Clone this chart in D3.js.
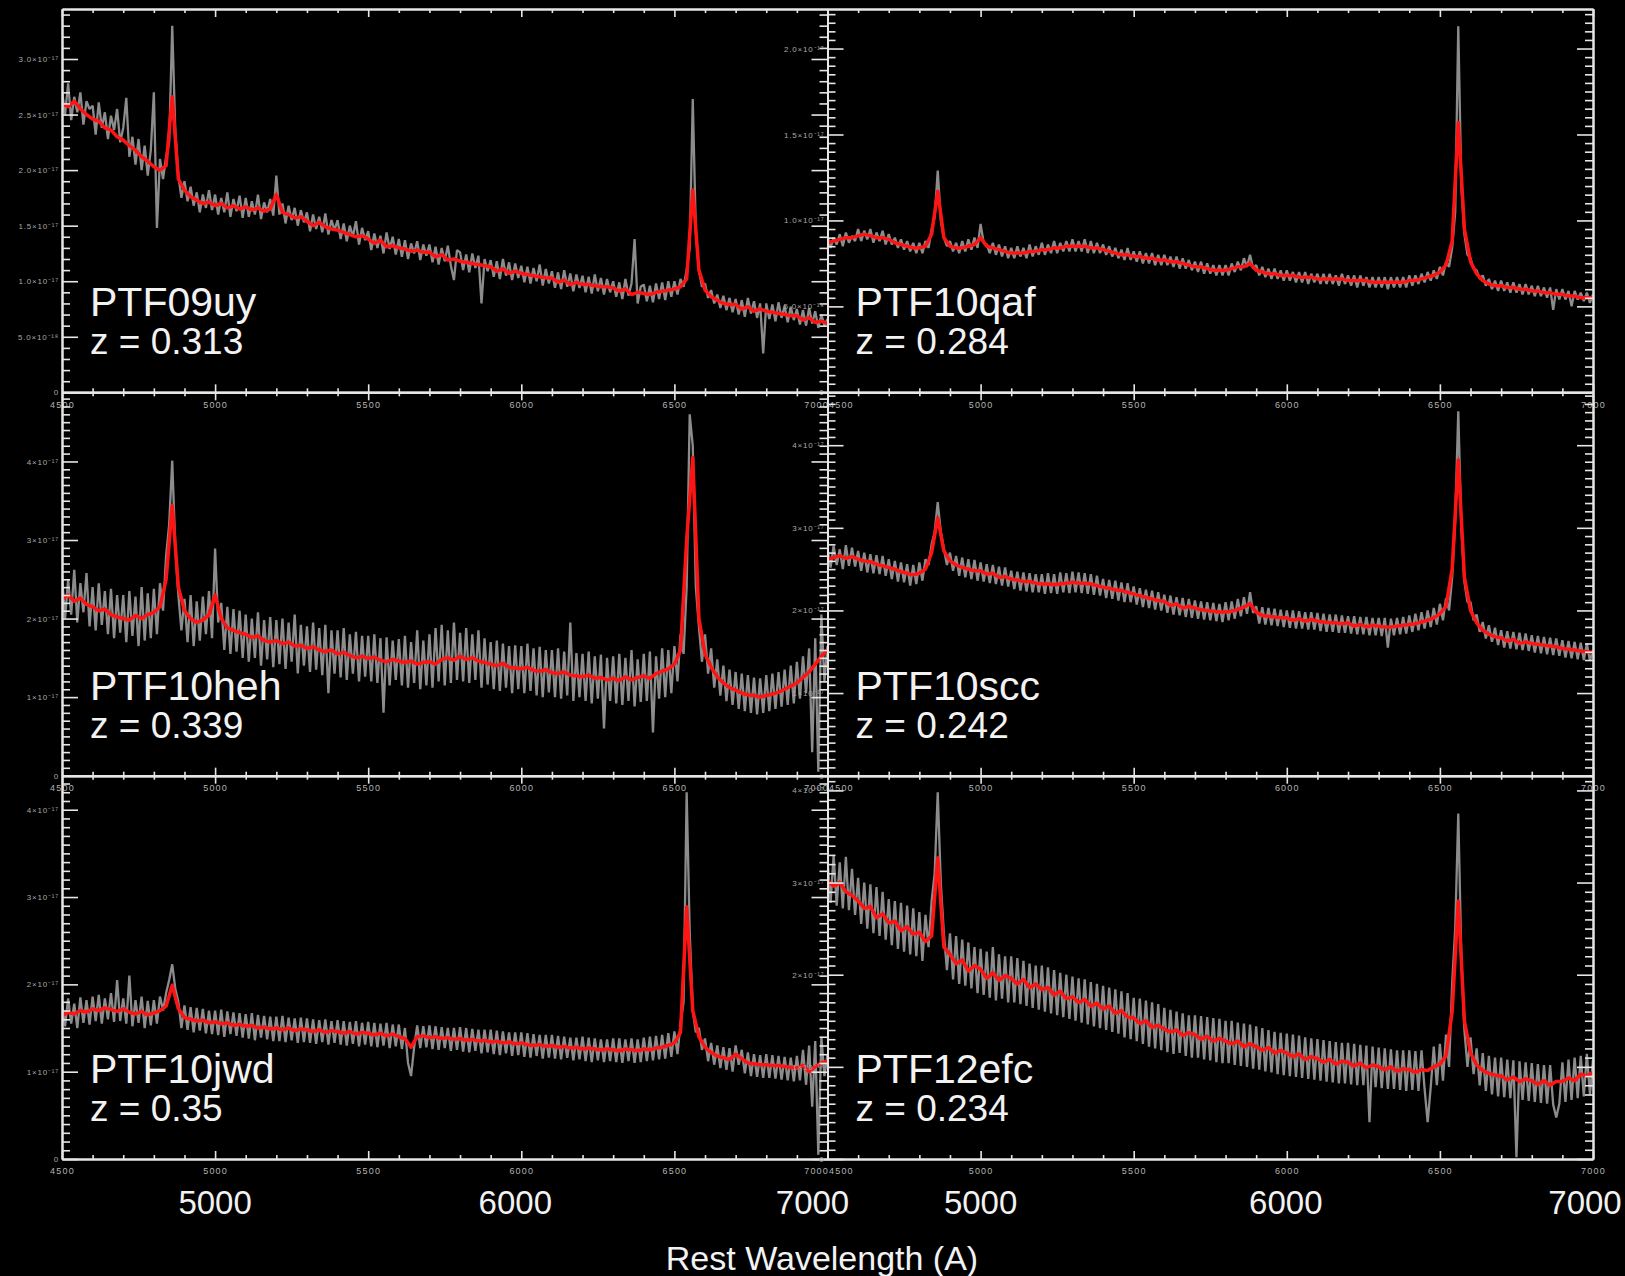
<!DOCTYPE html>
<html><head><meta charset="utf-8">
<script src="https://cdn.jsdelivr.net/npm/d3@7"></script>
<style>html,body{margin:0;padding:0;background:#000;}svg{display:block;}</style>
</head><body>
<svg id="c" width="1625" height="1276"></svg>
<script>
// ---------------- DATA ----------------
const names = ["PTF09uy","PTF10qaf","PTF10heh","PTF10scc","PTF10jwd","PTF12efc"];
const redshifts = ["0.313","0.284","0.339","0.242","0.35","0.234"];
const yMax = [3.45, 2.23, 4.88, 4.64, 4.39, 4.16];       // flux axis top (units of 1e-17)
const yMajorStep = [0.5, 0.5, 1, 1, 1, 1];
const yMinorStep = [0.1, 0.05, 0.1, 0.1, 0.1, 0.1];
const xMajorTicks = [4500, 5000, 5500, 6000, 6500, 7000];
const xMinorStep = 100;
const bigXTicks = [5000, 6000, 7000];
const xLabel = "Rest Wavelength (A)";
const GRAY_START = 4500, GRAY_STEP = 10;   // observed spectrum sampling (Å)
const RED_START = 4500, RED_STEP = 20;     // smoothed spectrum sampling (Å)

const gray_PTF09uy = [
2.72,2.50,2.78,2.45,2.66,2.52,2.70,2.41,2.62,2.55,
2.58,2.32,2.61,2.38,2.52,2.28,2.49,2.36,2.55,2.25,
2.38,2.65,2.12,2.30,2.05,2.28,2.00,2.22,1.95,2.18,
2.70,1.48,2.10,1.92,2.12,2.25,3.30,2.35,1.95,1.75,
1.90,1.72,1.85,1.68,1.80,1.62,1.78,1.66,1.82,1.64,
1.78,1.60,1.75,1.62,1.80,1.58,1.74,1.63,1.77,1.57,
1.75,1.58,1.72,1.60,1.78,1.56,1.71,1.62,1.74,1.59,
1.95,1.60,1.70,1.52,1.68,1.55,1.66,1.50,1.64,1.53,
1.62,1.45,1.60,1.47,1.58,1.44,1.61,1.42,1.55,1.46,
1.55,1.38,1.52,1.36,1.50,1.40,1.54,1.33,1.48,1.37,
1.45,1.28,1.43,1.30,1.41,1.25,1.44,1.29,1.40,1.24,
1.38,1.22,1.37,1.20,1.34,1.25,1.36,1.19,1.33,1.23,
1.33,1.17,1.31,1.15,1.30,1.18,1.32,1.14,1.01,1.28,
1.26,1.10,1.24,1.08,1.25,1.12,1.23,0.80,1.20,1.09,
1.19,1.04,1.18,1.02,1.20,1.05,1.17,1.01,1.16,1.03,
1.14,0.99,1.13,0.98,1.12,1.00,1.15,0.96,1.11,0.98,
1.09,0.94,1.08,0.93,1.10,0.95,1.07,0.91,1.06,0.94,
1.05,0.90,1.04,0.89,1.06,0.91,1.03,0.88,1.02,0.90,
1.00,0.86,0.99,0.84,1.02,0.87,0.98,1.38,0.80,0.95,
0.97,0.82,0.96,0.81,0.98,0.84,0.99,0.83,1.00,0.86,
1.00,0.88,1.02,0.95,1.10,1.30,2.64,1.45,1.10,0.95,
0.98,0.85,0.92,0.80,0.88,0.76,0.87,0.74,0.85,0.72,
0.84,0.70,0.83,0.68,0.85,0.71,0.82,0.67,0.80,0.35,
0.80,0.66,0.79,0.64,0.81,0.67,0.78,0.63,0.77,0.65,
0.75,0.61,0.74,0.60,0.76,0.62,0.73,0.58,0.70,0.60,
0.66];
const red_PTF09uy = [
2.60,2.57,2.62,2.55,2.50,
2.46,2.44,2.38,2.36,2.30,
2.27,2.22,2.18,2.12,2.08,
2.03,2.00,2.04,2.66,1.92,
1.82,1.76,1.73,1.70,1.71,
1.68,1.70,1.66,1.68,1.65,
1.67,1.64,1.66,1.63,1.65,
1.78,1.62,1.60,1.57,1.58,
1.54,1.50,1.53,1.49,1.47,
1.46,1.44,1.42,1.40,1.41,
1.38,1.34,1.37,1.31,1.32,
1.30,1.29,1.27,1.28,1.26,
1.26,1.22,1.24,1.19,1.20,
1.18,1.17,1.16,1.15,1.14,
1.13,1.09,1.11,1.07,1.09,
1.07,1.06,1.05,1.04,1.03,
1.03,0.99,1.01,0.97,0.99,
0.97,0.97,0.96,0.95,0.95,
0.94,0.91,0.93,0.88,0.90,
0.89,0.88,0.90,0.91,0.92,
0.93,0.95,1.02,1.82,1.10,
0.92,0.86,0.83,0.80,0.79,
0.79,0.75,0.77,0.73,0.75,
0.73,0.72,0.71,0.70,0.69,
0.69,0.65,0.67,0.63,0.64,
0.62];

const gray_PTF10qaf = [
0.91,0.84,0.90,0.86,0.92,0.85,0.93,0.87,0.91,0.88,
0.95,0.88,0.94,0.89,0.95,0.87,0.93,0.88,0.94,0.86,
0.92,0.86,0.90,0.84,0.89,0.83,0.88,0.82,0.87,0.81,
0.87,0.81,0.88,0.84,0.95,1.02,1.29,1.00,0.90,0.85,
0.88,0.82,0.87,0.81,0.88,0.82,0.89,0.83,0.90,0.84,
0.98,0.87,0.86,0.81,0.87,0.80,0.86,0.79,0.85,0.78,
0.84,0.78,0.85,0.79,0.84,0.78,0.86,0.79,0.85,0.80,
0.87,0.80,0.86,0.81,0.88,0.81,0.87,0.82,0.88,0.82,
0.89,0.82,0.88,0.82,0.89,0.81,0.88,0.81,0.87,0.81,
0.86,0.80,0.85,0.79,0.84,0.78,0.83,0.77,0.84,0.77,
0.82,0.76,0.82,0.75,0.81,0.75,0.81,0.74,0.80,0.74,
0.80,0.74,0.79,0.73,0.79,0.72,0.78,0.72,0.77,0.71,
0.76,0.70,0.76,0.69,0.75,0.69,0.74,0.68,0.74,0.68,
0.74,0.68,0.75,0.70,0.76,0.71,0.78,0.73,0.80,0.72,
0.74,0.68,0.73,0.67,0.72,0.66,0.72,0.66,0.71,0.65,
0.71,0.65,0.70,0.64,0.70,0.64,0.70,0.63,0.69,0.64,
0.69,0.63,0.69,0.63,0.69,0.63,0.68,0.62,0.69,0.63,
0.68,0.62,0.68,0.61,0.68,0.62,0.67,0.61,0.67,0.61,
0.67,0.61,0.67,0.60,0.67,0.61,0.67,0.61,0.67,0.61,
0.68,0.62,0.68,0.63,0.69,0.64,0.70,0.65,0.71,0.66,
0.73,0.68,0.76,0.73,0.84,1.05,2.13,1.20,0.92,0.80,
0.78,0.72,0.71,0.66,0.68,0.62,0.66,0.60,0.65,0.59,
0.65,0.59,0.64,0.58,0.64,0.58,0.63,0.57,0.63,0.57,
0.62,0.56,0.62,0.56,0.61,0.55,0.61,0.48,0.60,0.54,
0.60,0.54,0.59,0.50,0.59,0.54,0.58,0.53,0.58,0.52,
0.57];
const red_PTF10qaf = [
0.87,0.88,0.89,0.90,0.90,
0.91,0.92,0.91,0.90,0.90,
0.89,0.87,0.86,0.85,0.84,
0.84,0.85,0.92,1.17,0.90,
0.85,0.84,0.84,0.85,0.86,
0.90,0.85,0.84,0.83,0.82,
0.81,0.81,0.81,0.82,0.82,
0.83,0.83,0.84,0.84,0.85,
0.85,0.85,0.85,0.84,0.84,
0.83,0.82,0.81,0.80,0.80,
0.79,0.79,0.78,0.78,0.77,
0.77,0.76,0.76,0.75,0.74,
0.73,0.73,0.72,0.71,0.71,
0.71,0.72,0.73,0.73,0.75,
0.71,0.70,0.69,0.69,0.68,
0.68,0.68,0.67,0.67,0.67,
0.66,0.66,0.66,0.66,0.66,
0.65,0.65,0.65,0.65,0.64,
0.64,0.64,0.64,0.64,0.64,
0.65,0.65,0.66,0.67,0.68,
0.70,0.74,0.88,1.57,0.95,
0.76,0.69,0.65,0.63,0.62,
0.62,0.61,0.61,0.60,0.60,
0.59,0.59,0.58,0.58,0.57,
0.57,0.56,0.56,0.55,0.55,
0.55];

const gray_PTF10heh = [
2.55,2.00,2.50,2.05,2.62,1.95,2.45,2.08,2.58,1.90,
2.40,1.85,2.45,1.92,2.35,1.80,2.38,1.75,2.30,1.82,
2.30,1.70,2.35,1.78,2.28,1.65,2.40,1.72,2.32,1.75,
2.38,1.80,2.45,2.10,2.80,3.20,4.01,2.90,2.30,1.85,
2.25,1.70,2.30,1.65,2.22,1.72,2.28,1.80,2.35,1.75,
2.89,1.95,2.20,1.60,2.15,1.55,2.12,1.58,2.10,1.50,
2.05,1.45,2.00,1.50,2.08,1.40,1.98,1.48,2.02,1.38,
1.98,1.42,2.00,1.36,1.95,1.45,2.05,1.30,1.92,1.40,
1.90,1.32,1.95,1.35,1.88,1.28,1.92,1.05,1.85,1.30,
1.85,1.25,1.88,1.22,1.80,1.30,1.83,1.20,1.78,1.26,
1.78,1.20,1.80,1.18,1.75,0.80,1.76,1.15,1.72,1.22,
1.74,1.15,1.78,1.12,1.70,1.18,1.85,1.10,1.72,1.15,
1.80,1.12,1.88,1.20,1.92,1.15,1.85,1.18,1.95,1.22,
1.82,1.20,1.88,1.18,1.80,1.22,1.85,1.12,1.75,1.16,
1.70,1.10,1.72,1.08,1.68,1.12,1.65,1.05,1.66,1.10,
1.65,1.05,1.68,1.08,1.62,1.02,1.64,1.00,1.60,1.06,
1.60,1.00,1.62,0.98,1.58,1.02,1.95,0.95,1.56,1.00,
1.55,0.95,1.58,0.92,1.52,0.98,1.54,0.60,1.50,0.95,
1.52,0.92,1.55,0.90,1.50,0.95,1.60,0.88,1.48,0.94,
1.55,0.95,1.58,0.55,1.52,0.98,1.62,1.00,1.60,1.05,
1.65,1.20,1.80,1.55,2.40,4.60,4.20,2.40,1.90,1.45,
1.80,1.30,1.62,1.12,1.48,1.02,1.40,0.95,1.35,0.90,
1.32,0.85,1.30,0.82,1.28,0.80,1.25,0.78,1.24,0.80,
1.28,0.82,1.30,0.85,1.32,0.88,1.35,0.90,1.40,0.92,
1.45,0.98,1.52,1.05,1.62,0.30,1.75,0.05,2.05,1.20,
1.65];
const red_PTF10heh = [
2.25,2.30,2.22,2.26,2.18,
2.15,2.10,2.12,2.05,2.02,
2.00,1.98,2.04,2.00,2.05,
2.08,2.15,2.50,3.44,2.40,
2.10,2.00,1.95,1.98,2.05,
2.30,2.00,1.88,1.85,1.82,
1.80,1.76,1.78,1.72,1.70,
1.72,1.68,1.70,1.65,1.66,
1.62,1.64,1.60,1.58,1.60,
1.55,1.57,1.53,1.50,1.52,
1.49,1.51,1.47,1.45,1.48,
1.46,1.44,1.46,1.42,1.44,
1.45,1.42,1.48,1.50,1.47,
1.52,1.48,1.50,1.46,1.44,
1.42,1.40,1.43,1.38,1.37,
1.36,1.38,1.34,1.33,1.35,
1.31,1.30,1.32,1.28,1.27,
1.26,1.28,1.24,1.25,1.22,
1.24,1.21,1.26,1.22,1.25,
1.27,1.24,1.30,1.33,1.36,
1.42,1.60,3.00,4.05,2.00,
1.55,1.38,1.26,1.18,1.12,
1.09,1.05,1.03,1.02,1.00,
1.02,1.04,1.06,1.10,1.14,
1.18,1.25,1.32,1.42,1.52,
1.60];

const gray_PTF10scc = [
2.75,2.52,2.78,2.55,2.74,2.50,2.79,2.54,2.76,2.53,
2.72,2.48,2.70,2.46,2.68,2.45,2.67,2.44,2.66,2.42,
2.62,2.38,2.60,2.35,2.58,2.34,2.56,2.30,2.55,2.32,
2.58,2.36,2.62,2.55,2.80,2.95,3.31,2.95,2.75,2.55,
2.70,2.48,2.66,2.42,2.64,2.40,2.62,2.38,2.61,2.36,
2.58,2.35,2.56,2.33,2.55,2.32,2.53,2.30,2.52,2.29,
2.48,2.26,2.47,2.24,2.46,2.23,2.45,2.22,2.44,2.22,
2.44,2.20,2.45,2.21,2.44,2.20,2.46,2.22,2.45,2.21,
2.47,2.22,2.46,2.21,2.45,2.20,2.44,2.19,2.42,2.18,
2.38,2.15,2.37,2.14,2.36,2.12,2.34,2.10,2.33,2.10,
2.29,2.07,2.27,2.04,2.25,2.03,2.24,2.01,2.22,2.00,
2.19,1.97,2.18,1.95,2.16,1.94,2.15,1.92,2.14,1.91,
2.12,1.90,2.11,1.89,2.10,1.88,2.09,1.87,2.08,1.86,
2.10,1.88,2.11,1.90,2.14,1.93,2.16,1.96,2.22,1.97,
2.05,1.84,2.04,1.83,2.03,1.82,2.02,1.81,2.01,1.80,
2.00,1.79,2.00,1.78,1.99,1.78,1.98,1.77,1.98,1.77,
1.97,1.75,1.96,1.74,1.95,1.74,1.95,1.73,1.94,1.73,
1.93,1.72,1.93,1.71,1.92,1.71,1.92,1.70,1.91,1.70,
1.91,1.69,1.91,1.55,1.90,1.70,1.91,1.71,1.92,1.72,
1.94,1.74,1.96,1.76,1.98,1.78,2.00,1.80,2.03,1.83,
2.08,1.88,2.15,2.00,2.40,3.10,4.41,3.00,2.35,2.10,
2.10,1.88,1.95,1.74,1.86,1.66,1.82,1.62,1.79,1.58,
1.76,1.55,1.75,1.54,1.74,1.53,1.73,1.52,1.72,1.51,
1.70,1.49,1.69,1.48,1.68,1.47,1.67,1.46,1.66,1.45,
1.64,1.43,1.63,1.42,1.62,1.41,1.61,1.40,1.60,1.39,
1.52];
const red_PTF10scc = [
2.62,2.64,2.66,2.63,2.65,
2.62,2.60,2.59,2.56,2.54,
2.52,2.50,2.47,2.45,2.43,
2.45,2.50,2.70,3.12,2.72,
2.60,2.55,2.52,2.50,2.48,
2.48,2.44,2.45,2.40,2.41,
2.38,2.37,2.35,2.35,2.33,
2.32,2.32,2.31,2.32,2.33,
2.34,2.33,2.33,2.32,2.30,
2.28,2.27,2.25,2.24,2.22,
2.20,2.18,2.16,2.14,2.12,
2.11,2.06,2.08,2.03,2.05,
2.03,2.01,2.00,1.99,1.98,
1.98,1.99,2.01,2.04,2.08,
1.98,1.94,1.93,1.92,1.91,
1.91,1.88,1.90,1.87,1.89,
1.87,1.86,1.85,1.85,1.84,
1.85,1.81,1.83,1.80,1.82,
1.81,1.80,1.80,1.81,1.82,
1.83,1.84,1.86,1.88,1.91,
1.96,2.05,2.50,3.82,2.40,
2.00,1.85,1.76,1.71,1.68,
1.67,1.63,1.65,1.60,1.62,
1.60,1.59,1.58,1.57,1.56,
1.54,1.53,1.52,1.51,1.50,
1.49];

const gray_PTF10jwd = [
1.80,1.52,1.84,1.55,1.78,1.50,1.85,1.56,1.82,1.54,
1.86,1.58,1.88,1.55,1.84,1.60,1.90,1.57,2.05,1.58,
1.84,1.55,2.10,1.52,1.82,1.56,1.86,1.50,1.81,1.53,
1.82,1.55,1.86,1.70,1.90,2.05,2.23,1.95,1.80,1.50,
1.76,1.48,1.74,1.45,1.73,1.47,1.72,1.44,1.70,1.43,
1.70,1.42,1.71,1.40,1.69,1.43,1.68,1.41,1.67,1.39,
1.66,1.38,1.67,1.36,1.65,1.39,1.64,1.37,1.63,1.35,
1.63,1.35,1.64,1.34,1.62,1.36,1.61,1.33,1.62,1.34,
1.61,1.33,1.60,1.32,1.59,1.34,1.60,1.31,1.58,1.33,
1.59,1.31,1.58,1.30,1.57,1.32,1.58,1.29,1.56,1.31,
1.57,1.29,1.56,1.28,1.55,1.30,1.56,1.27,1.54,1.29,
1.54,1.26,1.50,1.10,0.95,1.28,1.53,1.27,1.52,1.28,
1.53,1.26,1.52,1.25,1.51,1.27,1.50,1.24,1.50,1.25,
1.51,1.23,1.50,1.22,1.49,1.24,1.48,1.21,1.48,1.22,
1.48,1.20,1.47,1.19,1.46,1.21,1.45,1.18,1.45,1.19,
1.45,1.17,1.44,1.16,1.43,1.18,1.42,1.15,1.42,1.16,
1.42,1.15,1.41,1.14,1.40,1.16,1.39,1.13,1.39,1.14,
1.40,1.12,1.39,1.11,1.38,1.13,1.37,1.11,1.37,1.12,
1.38,1.11,1.38,1.10,1.37,1.12,1.38,1.10,1.37,1.11,
1.39,1.12,1.40,1.13,1.41,1.14,1.42,1.15,1.44,1.17,
1.46,1.20,1.55,1.80,4.20,2.60,1.70,1.45,1.50,1.25,
1.38,1.12,1.33,1.08,1.30,1.04,1.28,1.02,1.27,1.00,
1.30,1.08,1.25,0.98,1.22,0.95,1.20,0.94,1.19,0.93,
1.20,0.93,1.19,0.92,1.18,0.91,1.17,0.90,1.16,0.89,
1.18,0.90,1.25,0.85,1.30,0.60,1.35,0.05,1.40,0.95,
1.20];
const red_PTF10jwd = [
1.64,1.68,1.66,1.70,1.68,
1.72,1.70,1.73,1.71,1.69,
1.72,1.68,1.66,1.69,1.65,
1.67,1.70,1.75,1.99,1.72,
1.62,1.60,1.58,1.59,1.56,
1.57,1.55,1.56,1.53,1.54,
1.52,1.53,1.50,1.51,1.49,
1.50,1.48,1.50,1.47,1.49,
1.48,1.46,1.48,1.45,1.47,
1.46,1.44,1.46,1.43,1.45,
1.44,1.42,1.44,1.41,1.43,
1.40,1.38,1.28,1.40,1.41,
1.39,1.40,1.38,1.39,1.37,
1.38,1.36,1.37,1.35,1.36,
1.34,1.35,1.33,1.34,1.32,
1.33,1.31,1.30,1.31,1.29,
1.30,1.28,1.29,1.27,1.28,
1.26,1.27,1.26,1.25,1.26,
1.25,1.24,1.26,1.25,1.24,
1.26,1.25,1.27,1.28,1.30,
1.33,1.45,2.89,1.70,1.40,
1.28,1.22,1.18,1.16,1.14,
1.20,1.15,1.10,1.09,1.08,
1.08,1.07,1.07,1.06,1.05,
1.04,1.07,1.00,1.06,1.10,
1.12];

const gray_PTF12efc = [
3.25,2.78,3.30,2.75,3.22,2.72,3.28,2.70,3.15,2.65,
3.05,2.55,3.00,2.50,2.98,2.45,2.95,2.42,2.90,2.38,
2.82,2.32,2.80,2.28,2.78,2.25,2.75,2.22,2.72,2.20,
2.68,2.15,2.65,2.30,2.80,3.10,3.98,3.00,2.45,2.05,
2.45,1.95,2.42,1.90,2.38,1.88,2.35,1.85,2.30,1.80,
2.28,1.78,2.25,1.75,2.30,1.72,2.22,1.74,2.20,1.70,
2.20,1.70,2.18,1.68,2.15,1.66,2.12,1.64,2.10,1.62,
2.10,1.60,2.08,1.58,2.05,1.56,2.02,1.54,2.00,1.52,
1.98,1.50,1.96,1.48,1.95,1.46,1.92,1.44,1.90,1.42,
1.88,1.40,1.86,1.38,1.84,1.36,1.82,1.32,1.80,1.30,
1.75,1.28,1.74,1.25,1.72,1.22,1.70,1.20,1.68,1.18,
1.64,1.16,1.62,1.14,1.60,1.15,1.58,1.12,1.56,1.10,
1.56,1.10,1.55,1.08,1.54,1.07,1.53,1.05,1.52,1.04,
1.50,1.04,1.50,1.02,1.48,1.01,1.47,1.00,1.46,0.98,
1.44,0.97,1.42,0.95,1.40,0.94,1.38,0.92,1.37,0.91,
1.36,0.90,1.35,0.89,1.34,0.88,1.32,0.87,1.31,0.86,
1.30,0.85,1.29,0.84,1.28,0.83,1.27,0.82,1.26,0.82,
1.26,0.81,1.25,0.80,1.24,0.80,1.23,0.40,1.22,0.78,
1.21,0.77,1.20,0.76,1.19,0.76,1.18,0.75,1.18,0.74,
1.18,0.75,1.17,0.74,1.18,0.76,0.40,0.78,1.22,0.80,
1.25,0.85,1.35,1.00,1.90,2.50,3.75,2.20,1.40,1.00,
1.32,0.92,1.20,0.80,1.15,0.74,1.12,0.70,1.10,0.68,
1.10,0.67,1.08,0.66,1.07,0.02,1.06,0.64,1.05,0.63,
1.04,0.62,1.03,0.61,1.02,0.60,1.02,0.59,0.45,0.60,
1.05,0.62,1.08,0.64,1.10,0.66,1.12,0.68,1.14,0.70,
1.08];
const red_PTF12efc = [
3.02,2.96,3.00,2.90,2.86,
2.80,2.72,2.74,2.62,2.66,
2.56,2.58,2.48,2.52,2.44,
2.46,2.36,2.42,3.27,2.30,
2.22,2.12,2.16,2.04,2.10,
2.06,1.96,2.02,1.94,1.99,
1.96,1.90,1.95,1.86,1.90,
1.84,1.86,1.78,1.82,1.74,
1.76,1.70,1.73,1.66,1.69,
1.63,1.66,1.58,1.61,1.54,
1.53,1.47,1.50,1.43,1.45,
1.41,1.38,1.40,1.34,1.37,
1.35,1.30,1.33,1.28,1.31,
1.28,1.25,1.28,1.22,1.25,
1.22,1.18,1.21,1.15,1.18,
1.15,1.11,1.14,1.08,1.11,
1.09,1.05,1.08,1.03,1.06,
1.05,1.01,1.04,0.99,1.02,
1.00,0.97,1.00,0.95,0.98,
0.97,0.94,0.97,0.96,1.00,
1.03,1.12,1.60,2.80,1.50,
1.15,1.02,0.96,0.93,0.91,
0.90,0.86,0.89,0.84,0.87,
0.85,0.81,0.85,0.80,0.84,
0.84,0.88,0.85,0.92,0.90,
0.94];

const grayData = [gray_PTF09uy, gray_PTF10qaf, gray_PTF10heh, gray_PTF10scc, gray_PTF10jwd, gray_PTF12efc];
const redData = [red_PTF09uy, red_PTF10qaf, red_PTF10heh, red_PTF10scc, red_PTF10jwd, red_PTF12efc];

// ---------------- LAYOUT / STYLE ----------------
const W = 1625, H = 1276;
const L = 62, R = 1593, T = 9, B = 1159;
const cw = (R - L) / 2, rh = (B - T) / 3;
const AX = "#e6e6e6";
const FONT = "Liberation Sans, Arial, Helvetica, sans-serif";

const svg = d3.select("#c");
svg.append("rect").attr("width", W).attr("height", H).attr("fill", "#000");
const defs = svg.append("defs");
const dataLayer = svg.append("g");
const axisLayer = svg.append("g");
const textLayer = svg.append("g");

function sup(n) {
  const m = {"-":"⁻","0":"⁰","1":"¹","2":"²","3":"³","4":"⁴","5":"⁵","6":"⁶","7":"⁷","8":"⁸","9":"⁹"};
  return String(n).split("").map(c => m[c]).join("");
}
function yFmt(step) {
  return v => {
    if (Math.abs(v) < 1e-9) return "0";
    if (step < 1) {
      if (v < 1 - 1e-9) return (v * 10).toFixed(1) + "×10" + sup(-18);
      return v.toFixed(1) + "×10" + sup(-17);
    }
    return Math.round(v) + "×10" + sup(-17);
  };
}
function styleAxis(g, labelSize, labelFill) {
  g.attr("font-family", FONT).attr("font-size", labelSize);
  g.selectAll(".domain").attr("stroke", AX).attr("stroke-width", 2);
  g.selectAll(".tick line").attr("stroke", AX).attr("stroke-width", 1.6);
  g.selectAll(".tick text").attr("fill", labelFill);
}

names.forEach((name, i) => {
  const col = i % 2, row = Math.floor(i / 2);
  const x0 = L + col * cw, y0 = T + row * rh;
  const x = d3.scaleLinear().domain([4500, 7000]).range([x0, x0 + cw]);
  const y = d3.scaleLinear().domain([0, yMax[i]]).range([y0 + rh, y0]);

  if (grayData[i].length !== 251 || redData[i].length !== 126)
    console.error("length mismatch", name, grayData[i].length, redData[i].length);

  const clipId = "clip" + i;
  defs.append("clipPath").attr("id", clipId).append("rect")
    .attr("x", x0).attr("y", y0).attr("width", cw).attr("height", rh);
  const pg = dataLayer.append("g").attr("clip-path", `url(#${clipId})`);

  const grayLine = d3.line().x((d, k) => x(GRAY_START + k * GRAY_STEP)).y(d => y(d));
  const redLine = d3.line().x((d, k) => x(RED_START + k * RED_STEP)).y(d => y(d));
  pg.append("path").datum(grayData[i]).attr("d", grayLine)
    .attr("fill", "none").attr("stroke", "#8c8c8c").attr("stroke-width", 2.3).attr("stroke-linejoin", "bevel");
  pg.append("path").datum(redData[i]).attr("d", redLine)
    .attr("fill", "none").attr("stroke", "#ff1414").attr("stroke-width", 3.5).attr("stroke-linejoin", "round");

  // tick values
  const xMinor = d3.range(4500, 7001, xMinorStep).filter(v => !xMajorTicks.includes(v));
  const yMaj = d3.range(0, yMax[i] + 1e-9, yMajorStep[i]);
  const yMin = d3.range(0, yMax[i], yMinorStep[i])
    .filter(v => yMaj.every(m => Math.abs(m - v) > 1e-6));

  // bottom axis (labels)
  const gB = axisLayer.append("g").attr("transform", `translate(0,${y0 + rh})`);
  gB.call(d3.axisBottom(x).tickValues(xMajorTicks).tickSize(-8).tickSizeOuter(0).tickPadding(9).tickFormat(d3.format("d")));
  styleAxis(gB, 9, "#b4b4b4");
  gB.selectAll(".tick text").attr("letter-spacing", 1.2);
  // labels sitting on the shared middle edge: keep them on their own side
  gB.selectAll(".tick text").filter(d => (col === 0 && d === 7000))
    .attr("text-anchor", "end").attr("dx", 1);
  gB.selectAll(".tick text").filter(d => (col === 1 && d === 4500))
    .attr("text-anchor", "start").attr("dx", 1);
  const gBm = axisLayer.append("g").attr("transform", `translate(0,${y0 + rh})`);
  gBm.call(d3.axisBottom(x).tickValues(xMinor).tickSize(-4).tickSizeOuter(0).tickFormat(""));
  styleAxis(gBm, 9, "#b4b4b4");

  // top axis
  const gT = axisLayer.append("g").attr("transform", `translate(0,${y0})`);
  gT.call(d3.axisTop(x).tickValues(xMajorTicks).tickSize(-8).tickSizeOuter(0).tickFormat(""));
  styleAxis(gT, 9, "#b4b4b4");
  const gTm = axisLayer.append("g").attr("transform", `translate(0,${y0})`);
  gTm.call(d3.axisTop(x).tickValues(xMinor).tickSize(-4).tickSizeOuter(0).tickFormat(""));
  styleAxis(gTm, 9, "#b4b4b4");

  // left axis (labels)
  const gL = axisLayer.append("g").attr("transform", `translate(${x0},0)`);
  gL.call(d3.axisLeft(y).tickValues(yMaj).tickSize(-16).tickSizeOuter(0).tickPadding(3).tickFormat(yFmt(yMajorStep[i])));
  styleAxis(gL, 8, "#a8a8a8");
  gL.selectAll(".tick text").attr("letter-spacing", 0.8);
  const gLm = axisLayer.append("g").attr("transform", `translate(${x0},0)`);
  gLm.call(d3.axisLeft(y).tickValues(yMin).tickSize(-8).tickSizeOuter(0).tickFormat(""));
  styleAxis(gLm, 8, "#a8a8a8");

  // right axis
  const gR = axisLayer.append("g").attr("transform", `translate(${x0 + cw},0)`);
  gR.call(d3.axisRight(y).tickValues(yMaj).tickSize(-16).tickSizeOuter(0).tickFormat(""));
  styleAxis(gR, 8, "#a8a8a8");
  const gRm = axisLayer.append("g").attr("transform", `translate(${x0 + cw},0)`);
  gRm.call(d3.axisRight(y).tickValues(yMin).tickSize(-8).tickSizeOuter(0).tickFormat(""));
  styleAxis(gRm, 8, "#a8a8a8");

  // object name and redshift
  textLayer.append("text").attr("x", x0 + 28).attr("y", y0 + rh - 76)
    .attr("font-family", FONT).attr("font-size", 41).attr("fill", "#f2f2f2").text(name);
  textLayer.append("text").attr("x", x0 + 28).attr("y", y0 + rh - 38)
    .attr("font-family", FONT).attr("font-size", 37).attr("fill", "#f2f2f2").text("z = " + redshifts[i]);

  // large wavelength labels below the bottom row
  if (row === 2) {
    const shift = {5000: 0, 6000: col === 0 ? -6 : -1, 7000: col === 0 ? -15 : -8};
    bigXTicks.forEach(t => {
      textLayer.append("text").attr("x", x(t) + shift[t]).attr("y", 1214)
        .attr("text-anchor", "middle").attr("font-family", FONT).attr("font-size", 33)
        .attr("fill", "#f2f2f2").text(t);
    });
  }
});

textLayer.append("text").attr("x", 822).attr("y", 1270).attr("text-anchor", "middle")
  .attr("font-family", FONT).attr("font-size", 34).attr("fill", "#f2f2f2").text(xLabel);
</script>
</body></html>
